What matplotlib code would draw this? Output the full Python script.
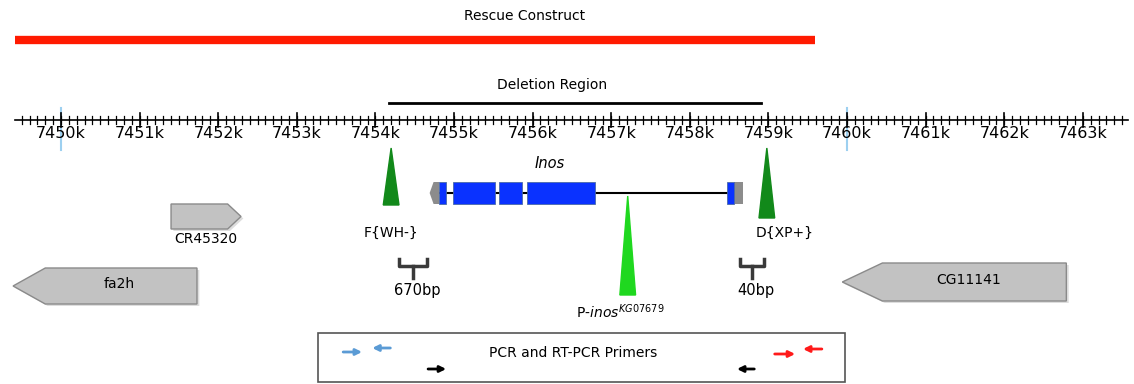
import numpy as np
import matplotlib.pyplot as plt
from matplotlib.patches import Polygon, Rectangle

# genome positions in kb
view = (7449.224, 7463.651)
ruler = (7449.42, 7463.58)
major_ticks = list(range(7450, 7464))
marked_ticks = [7450, 7460]
rescue = (7449.42, 7459.59)
deletion = (7454.17, 7458.91)

# Inos gene model
inos_span = (7454.69, 7458.68)
inos_exon_starts = [7454.81, 7454.99, 7455.57, 7455.93, 7458.47]
inos_exon_ends = [7454.90, 7455.52, 7455.87, 7456.79, 7458.56]
inos_utr_left = (7454.69, 7454.81)
inos_utr_right = (7458.56, 7458.68)

# neighbouring genes
gene_names = ["CR45320", "fa2h", "CG11141"]
gene_starts = [7451.40, 7449.39, 7459.94]
gene_ends = [7452.29, 7451.73, 7462.79]
gene_strand = ["+", "-", "-"]

# transposon insertions
ins_names = ["F{WH-}", "D{XP+}", r"P-$\mathit{inos}^{KG07679}$"]
ins_pos = [7454.20, 7458.98, 7457.21]

# residual lengths
bracket_labels = ["670bp", "40bp"]
bracket_starts = [7454.30, 7458.64]
bracket_ends = [7454.66, 7458.94]

# primers (start, end)
primer_starts = [7453.59, 7454.19, 7459.08, 7459.68, 7454.67, 7458.82]
primer_ends = [7453.83, 7453.96, 7459.34, 7459.44, 7454.90, 7458.60]
primer_colors = ["#5b9bd5", "#5b9bd5", "#ff1a1a", "#ff1a1a", "black", "black"]
primer_rows = [352, 348, 354, 349, 369, 369]
pcr_box = (7453.27, 7459.97)


fig = plt.figure(figsize=(11.34, 3.84), dpi=100)
ax = fig.add_axes([0, 0, 1, 1])
ax.set_xlim(*view)
ax.set_ylim(384, 0)
ax.axis("off")

# rescue construct
ax.plot(rescue, [40, 40], color="#ff1a00", lw=6, solid_capstyle="butt")
ax.text(7455.90, 16, "Rescue Construct", ha="center", va="center", fontsize=10)

# deletion region
ax.plot(deletion, [103, 103], color="black", lw=2)
ax.text(7456.25, 85, "Deletion Region", ha="center", va="center", fontsize=10)

# ruler
for t in marked_ticks:
    ax.plot([t, t], [108, 150], color="#9dd0f0", lw=1.5, zorder=1)
ax.plot(ruler, [120, 120], color="black", lw=1.2, zorder=2)
minor = np.arange(7449.5, 7463.55, 0.1)
for t in minor:
    ax.plot([t, t], [116, 124], color="black", lw=0.9, zorder=2)
for t in major_ticks:
    ax.plot([t, t], [113, 127], color="black", lw=1.2, zorder=2)
    ax.text(t, 133, f"{t}k", ha="center", va="center", fontsize=11.5, zorder=3)

# neighbouring genes
for name, s, e, st in zip(gene_names, gene_starts, gene_ends, gene_strand):
    if name == "CR45320":
        y0, y1, tip = 204, 229, 0.17
    elif name == "fa2h":
        y0, y1, tip = 268, 304, 0.41
    else:
        y0, y1, tip = 263, 301, 0.51
    ym = (y0 + y1) / 2
    if st == "+":
        pts = [(s, y0), (e - tip, y0), (e, ym), (e - tip, y1), (s, y1)]
    else:
        pts = [(e, y0), (s + tip, y0), (s, ym), (s + tip, y1), (e, y1)]
    ax.add_patch(Polygon([(x + 0.03, y + 2) for x, y in pts], closed=True,
                         facecolor="#dddddd", edgecolor="none", zorder=1))
    ax.add_patch(Polygon(pts, closed=True, facecolor="#c2c2c2",
                         edgecolor="#8a8a8a", lw=1, zorder=2))
    if name == "CR45320":
        ax.text((s + e) / 2, 239, name, ha="center", va="center", fontsize=10)
    else:
        ax.text((s + e) / 2 + 0.18, ym - 2, name, ha="center", va="center", fontsize=10)

# Inos gene
ax.plot([inos_utr_left[1], inos_utr_right[0]], [193, 193], color="black", lw=1.5, zorder=2)
ax.add_patch(Polygon([(inos_utr_left[0], 193), (inos_utr_left[0] + 0.05, 182),
                      (inos_utr_left[1], 182), (inos_utr_left[1], 204),
                      (inos_utr_left[0] + 0.05, 204)], closed=True,
                     facecolor="#8c8c8c", edgecolor="none", zorder=3))
ax.add_patch(Rectangle((inos_utr_right[0], 182), inos_utr_right[1] - inos_utr_right[0], 22,
                       facecolor="#8c8c8c", edgecolor="none", zorder=3))
for s, e in zip(inos_exon_starts, inos_exon_ends):
    ax.add_patch(Rectangle((s, 182), e - s, 22, facecolor="#0a32ff",
                           edgecolor="#4a6aa8", lw=0.6, zorder=4))
ax.text(7456.22, 163, "Inos", ha="center", va="center", fontsize=10.5, style="italic")

# insertions
w = 0.1
ax.fill([ins_pos[0] - w, ins_pos[0], ins_pos[0] + w], [205, 148, 205], color="#12891a", zorder=5)
ax.fill([ins_pos[1] - w, ins_pos[1], ins_pos[1] + w], [218, 148, 218], color="#12891a", zorder=5)
ax.fill([ins_pos[2] - w, ins_pos[2], ins_pos[2] + w], [295, 196, 295], color="#1fd81f", zorder=5)
ax.text(ins_pos[0], 233, ins_names[0], ha="center", va="center", fontsize=10)
ax.text(ins_pos[1] + 0.22, 233, ins_names[1], ha="center", va="center", fontsize=10)
ax.text(ins_pos[2] - 0.1, 312, ins_names[2], ha="center", va="center", fontsize=10)

# brackets
for lab, s, e in zip(bracket_labels, bracket_starts, bracket_ends):
    m = (s + e) / 2
    ax.plot([s, s, e, e], [259, 266, 266, 259], color="#3a3a3a", lw=2.5,
            solid_joinstyle="round")
    ax.plot([m, m], [266, 278], color="#3a3a3a", lw=2.5)
    ax.text(m + 0.05, 291, lab, ha="center", va="center", fontsize=10.5)

# primer box
ax.add_patch(Rectangle((pcr_box[0], 333), pcr_box[1] - pcr_box[0], 49,
                       facecolor="white", edgecolor="#555555", lw=1.2, zorder=1))
ax.text(np.mean(pcr_box) - 0.1, 353, "PCR and RT-PCR Primers", ha="center",
        va="center", fontsize=10)
for s, e, c, y in zip(primer_starts, primer_ends, primer_colors, primer_rows):
    ax.annotate("", xy=(e, y), xytext=(s, y),
                arrowprops=dict(arrowstyle="-|>", color=c, lw=2, mutation_scale=9,
                                shrinkA=0, shrinkB=0))

fig.savefig("out.png", dpi=100)
